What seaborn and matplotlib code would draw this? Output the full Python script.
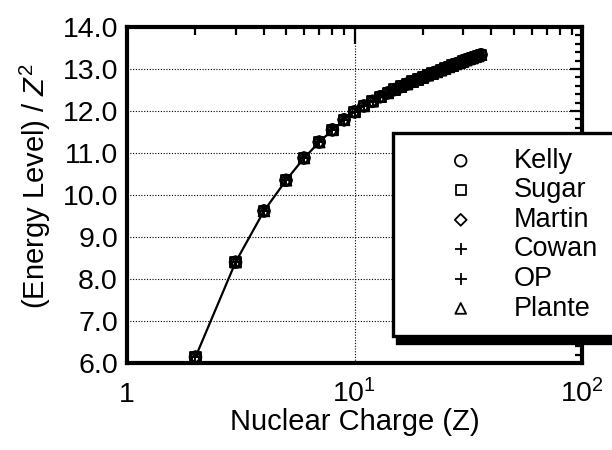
import numpy as np
import matplotlib
matplotlib.use("Agg")
import matplotlib.pyplot as plt
import seaborn as sns
from matplotlib.ticker import MultipleLocator, LogLocator, NullFormatter, FormatStrFormatter

# ---- data ----
nuclear_charge = list(range(2, 37))
energy_scaled = [6.14, 8.40, 9.62, 10.35, 10.88, 11.26, 11.55, 11.79, 11.98,
                 12.12, 12.23, 12.34, 12.43, 12.51, 12.58, 12.64, 12.70, 12.75,
                 12.80, 12.85, 12.89, 12.93, 12.97, 13.01, 13.05, 13.08, 13.12,
                 13.15, 13.18, 13.21, 13.24, 13.26, 13.29, 13.31, 13.34]
kelly = list(energy_scaled)
sugar = list(energy_scaled)
martin = list(energy_scaled)
cowan = list(energy_scaled)
op = list(energy_scaled)
plante = list(energy_scaled)

series_names = ["Kelly", "Sugar", "Martin", "Cowan", "OP", "Plante"]
series_values = [kelly, sugar, martin, cowan, op, plante]
series_markers = ["o", "s", "D", "+", "+", "^"]
series_sizes = [70, 55, 36, 70, 70, 60]

y_ticks = [6.0, 7.0, 8.0, 9.0, 10.0, 11.0, 12.0, 13.0, 14.0]
x_ticks = [1, 10, 100]
x_tick_labels = ["1", "$10^1$", "$10^2$"]

# ---- style ----
sns.set_theme(style="white")
plt.rcParams["font.family"] = ["Liberation Sans", "DejaVu Sans"]
plt.rcParams["mathtext.fontset"] = "custom"
plt.rcParams["mathtext.rm"] = "Liberation Sans"
plt.rcParams["mathtext.it"] = "Liberation Sans:italic"
plt.rcParams["text.color"] = "black"
plt.rcParams["axes.labelcolor"] = "black"
plt.rcParams["xtick.color"] = "black"
plt.rcParams["ytick.color"] = "black"

fig = plt.figure(figsize=(6.12, 4.5), dpi=100)
ax = fig.add_axes([127 / 612, 1 - 363 / 450, 455 / 612, 336 / 450])

sns.lineplot(x=nuclear_charge, y=energy_scaled, color="black", linewidth=1.6,
             ax=ax, zorder=2)

for name, vals, m, s in zip(series_names, series_values, series_markers, series_sizes):
    if m == "+":
        sns.scatterplot(x=nuclear_charge, y=vals, marker=m, color="black", s=s,
                        linewidth=1.3, ax=ax, label=name, zorder=3)
    else:
        sns.scatterplot(x=nuclear_charge, y=vals, marker=m, facecolor="none",
                        edgecolor="black", s=s, linewidth=1.3, ax=ax,
                        label=name, zorder=3)

if ax.get_legend() is not None:
    ax.get_legend().remove()

ax.set_xscale("log")
ax.set_xlim(1, 100)
ax.set_ylim(6.0, 14.0)
ax.set_xticks(x_ticks)
ax.set_xticklabels(x_tick_labels)
ax.xaxis.set_minor_locator(LogLocator(base=10, subs=np.arange(2, 10)))
ax.xaxis.set_minor_formatter(NullFormatter())
ax.set_yticks(y_ticks)
ax.yaxis.set_major_formatter(FormatStrFormatter("%.1f"))
ax.yaxis.set_minor_locator(MultipleLocator(0.2))

ax.grid(True, which="major", linestyle=(0, (1, 1.5)), color="black", linewidth=0.8)
for sp in ax.spines.values():
    sp.set_visible(True)
    sp.set_linewidth(3)
    sp.set_color("black")

ax.tick_params(axis="both", which="both", direction="in", top=True, right=True,
               color="black", width=1.6, labelsize=20.5)
ax.tick_params(axis="y", which="major", length=9, pad=6.5)
ax.tick_params(axis="y", which="minor", length=5)
ax.tick_params(axis="x", which="major", length=12, pad=28)
ax.tick_params(axis="x", which="minor", length=6)
for lab in ax.get_xticklabels():
    lab.set_va("baseline")

ax.set_xlabel("Nuclear Charge (Z)", fontsize=21)
ax.xaxis.set_label_coords(0.5, -0.176)
ax.xaxis.label.set_va("center")
ax.set_ylabel("(Energy Level) / $\\mathit{Z}^{2}$", fontsize=21)
ax.yaxis.set_label_coords(-0.202, 0.527)
ax.yaxis.label.set_va("center")

handles, labels = ax.get_legend_handles_labels()
pairs = [(h, l) for h, l in zip(handles, labels) if l in series_names]
leg = fig.legend([p[0] for p in pairs], [p[1] for p in pairs],
                 loc="upper left",
                 bbox_to_anchor=(393 / 612, 1 - 340 / 450, 0.5, (340 - 133) / 450),
                 mode="expand", fontsize=19.5, frameon=True, fancybox=False,
                 edgecolor="black", framealpha=1, facecolor="white",
                 borderpad=0.55, labelspacing=0.13, handlelength=3.9,
                 handletextpad=0.0, borderaxespad=0,
                 shadow={"ox": 3, "oy": -4.5, "facecolor": "black",
                         "edgecolor": "black", "alpha": 1})
leg.get_frame().set_linewidth(2.4)

fig.savefig("out.png", dpi=100)
